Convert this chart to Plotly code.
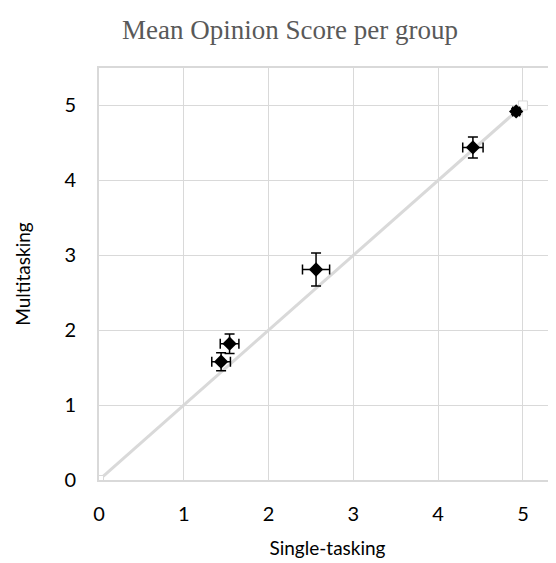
import plotly.graph_objects as go

single = [1.44, 1.54, 2.56, 4.41, 4.92]
multi = [1.58, 1.82, 2.81, 4.44, 4.92]
single_err = [0.11, 0.11, 0.16, 0.12, 0.04]
multi_err = [0.12, 0.13, 0.22, 0.14, 0.04]
diag_x = [0, 5]
diag_y = [0, 5]
ticks = [0, 1, 2, 3, 4, 5]

W, H = 548, 555  # page body has an 8px margin

fig = go.Figure()
fig.add_trace(go.Scatter(
    x=diag_x, y=diag_y, mode="lines+markers",
    line=dict(color="#d9d9d9", width=3),
    marker=dict(symbol="square", size=9, color="white",
                line=dict(color="#d9d9d9", width=1)),
    showlegend=False, hoverinfo="skip"))
fig.add_trace(go.Scatter(
    x=single, y=multi, mode="markers",
    marker=dict(symbol="diamond", size=11, color="black"),
    error_x=dict(type="data", array=single_err, color="black", thickness=1.5, width=5),
    error_y=dict(type="data", array=multi_err, color="black", thickness=1.5, width=5),
    showlegend=False))

fig.update_layout(
    width=W, height=H,
    margin=dict(l=91, r=0, t=60, b=83),
    paper_bgcolor="white", plot_bgcolor="white",
    title=dict(text="Mean Opinion Score per group", x=282 / W, xanchor="center",
               y=1 - 22 / H, yanchor="middle",
               font=dict(family="Liberation Serif, Times New Roman, serif", size=27, color="#595959")),
    font=dict(family="Lato, Open Sans, sans-serif", color="#000000"),
)
fig.update_xaxes(
    range=[0, 5.39], tickvals=ticks, ticktext=[str(t) for t in ticks],
    showgrid=True, gridcolor="#d9d9d9", gridwidth=1,
    showline=True, linecolor="#d9d9d9", linewidth=2, mirror=True,
    zeroline=False, ticks="", tickfont=dict(size=20, color="#000"),
    ticklabelstandoff=15,
    title=dict(text="Single-tasking", font=dict(size=19, color="#000"), standoff=18),
)
fig.update_yaxes(
    range=[0, 5.5], tickvals=ticks, ticktext=[str(t) for t in ticks],
    showgrid=True, gridcolor="#d9d9d9", gridwidth=1,
    showline=True, linecolor="#d9d9d9", linewidth=2,
    zeroline=False, ticks="", tickfont=dict(size=20, color="#000"),
    ticklabelstandoff=17,
    title=dict(text="Multitasking", font=dict(size=19, color="#000"), standoff=29),
)
fig.write_html("out.html")
